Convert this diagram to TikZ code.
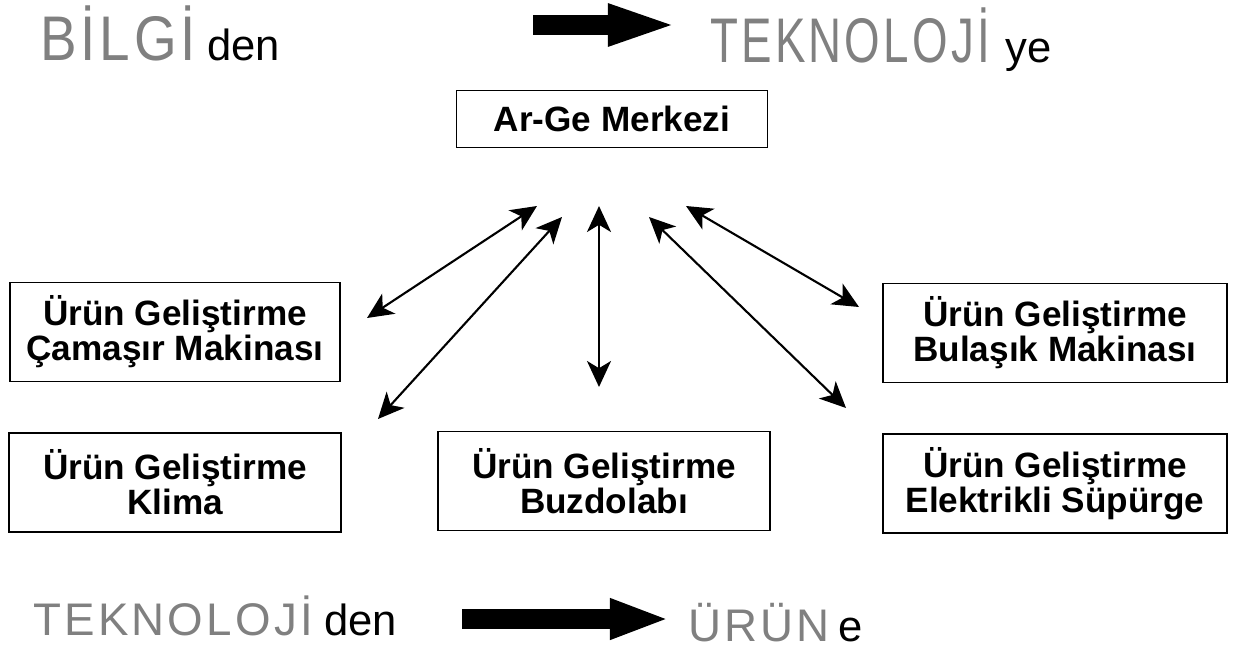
\documentclass[tikz,border=0pt]{standalone}
\usepackage{fontspec}
\setmainfont{Liberation Sans}
\newfontfamily\wordfont[LetterSpace=7]{Liberation Sans}
\usetikzlibrary{arrows.meta,positioning}
\definecolor{wordgray}{gray}{0.5}
\newcommand{\tallword}[2][1]{\scalebox{#1}[1.38]{#2}}
\tikzset{
  unitbox/.style={rectangle, draw=black, line width=1pt, fill=white, align=center,
                  font=\bfseries\fontsize{25}{24.8}\selectfont,
                  inner sep=0pt, minimum height=2.475cm},
  bigword/.style={anchor=base west, inner sep=0pt, text=wordgray,
                  font=\wordfont\fontsize{32.5}{32.5}\selectfont},
  smallword/.style={anchor=base west, inner sep=0pt,
                  font=\fontsize{31}{31}\selectfont},
  biarr/.style={{Stealth[length=6.5mm,width=6mm,inset=1.8mm]}-{Stealth[length=6.5mm,width=6mm,inset=1.8mm]},
                line width=1.5pt},
  blockarr/.style={-{Triangle[length=#1,width=0.92cm]}, line width=0.52cm},
}

\begin{document}
\begin{tikzpicture}[x=0.025cm, y=-0.025cm]
  \useasboundingbox (0,0) rectangle (1236,665);

  % ---- heading: bilgi -> teknoloji ----
  \node[bigword] (bilgi) at (40,60) {\tallword[1.2]{BİLGİ}};
  \node[smallword] (bilgiden) at (207,60) {den};
  \node[bigword] (tekno1) at (710,62) {\tallword{TEKNOLOJİ}};
  \node[smallword] (teknoye) at (1005,62) {ye};
  \coordinate (top-from) at (533,25);
  \coordinate (top-to) at (680,25);
  \draw[blockarr=1.8cm] (top-from) -- (top-to);

  % ---- centre and units ----
  \node[unitbox, minimum width=7.78cm, minimum height=1.43cm] (arge) at (612,119) {Ar-Ge Merkezi};
  \node[unitbox, minimum width=8.25cm] (cam) at (175,332) {Ürün Geliştirme\\Çamaşır Makinası};
  \node[unitbox, minimum width=8.3cm, below=1.25cm of cam] (klima) {Ürün Geliştirme\\Klima};
  \node[unitbox, minimum width=8.3cm] (buz) at (604,481) {Ürün Geliştirme\\Buzdolabı};
  \node[unitbox, minimum width=8.6cm] (bul) at (1055,333) {Ürün Geliştirme\\Bulaşık Makinası};
  \node[unitbox, minimum width=8.6cm, below=1.25cm of bul] (sup) {Ürün Geliştirme\\Elektrikli Süpürge};

  % arrow ends between the centre and the units
  \coordinate (h1) at (537,206);  \coordinate (t1) at (367,318);
  \coordinate (h2) at (562,217);  \coordinate (t2) at (378,419);
  \coordinate (h3) at (599,206);  \coordinate (t3) at (599,387);
  \coordinate (h4) at (649,217);  \coordinate (t4) at (846,408);
  \coordinate (h5) at (686,206);  \coordinate (t5) at (859,307);
  \foreach \i in {1,...,5}
    \draw[biarr] (h\i) -- (t\i);

  % ---- footer: teknoloji -> urun ----
  \node[bigword] (tekno2) at (33,635) {TEKNOLOJİ};
  \node[smallword] (teknoden) at (324,635) {den};
  \node[bigword] (urun) at (688,641) {ÜRÜN};
  \node[smallword] (urune) at (838,641) {e};
  \coordinate (bot-from) at (462,619);
  \coordinate (bot-to) at (670,619);
  \draw[blockarr=1.5cm] (bot-from) -- (bot-to);
\end{tikzpicture}
\end{document}
